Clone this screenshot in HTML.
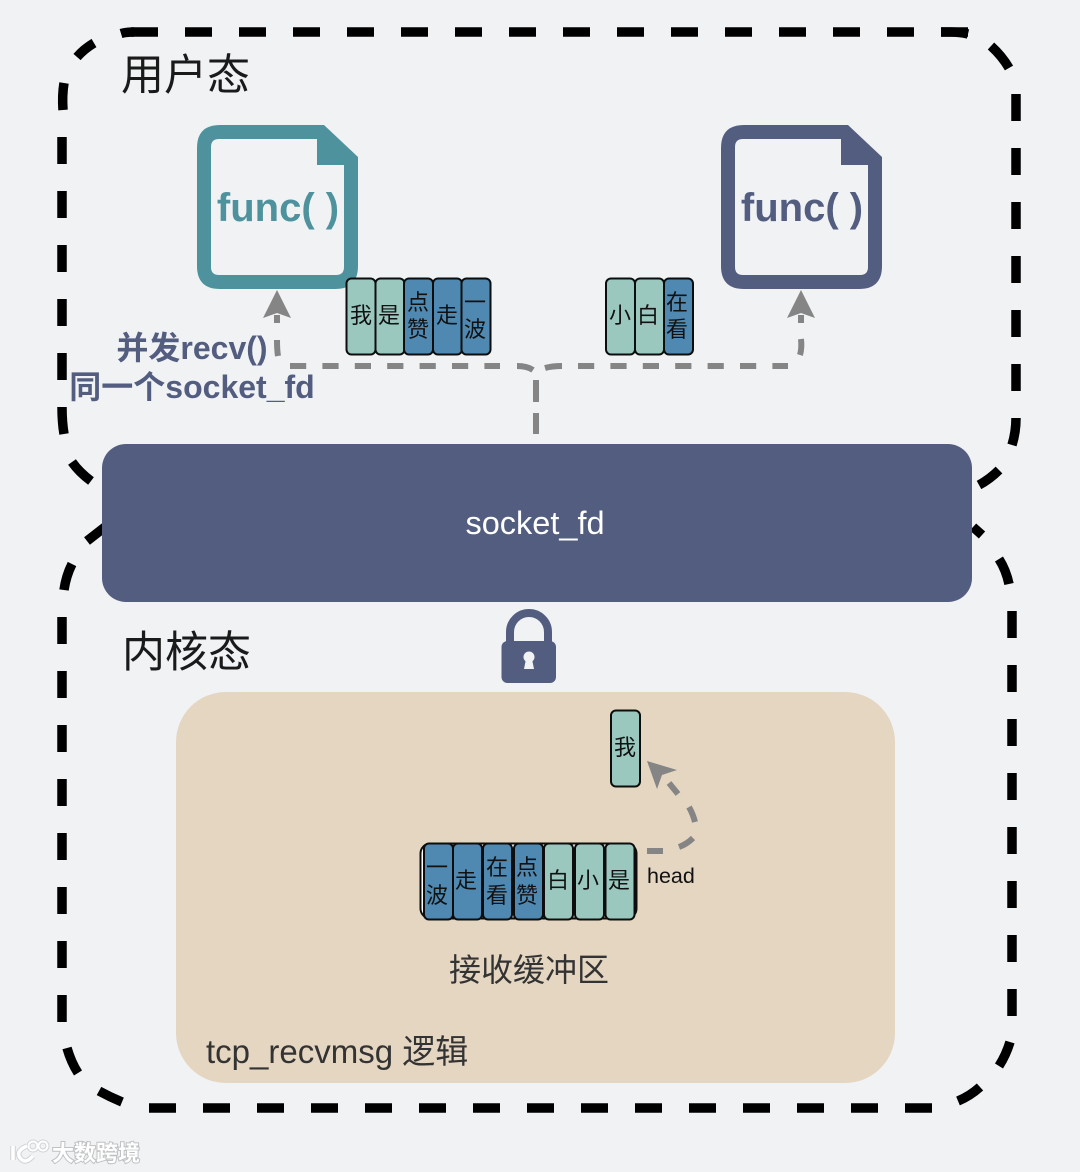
<!DOCTYPE html>
<html><head><meta charset="utf-8"><style>
html,body{margin:0;padding:0;background:#f0f2f4}
svg{display:block}
text{font-family:"Liberation Sans","Noto Sans CJK SC",sans-serif}
.c{font-size:22px;fill:#111;text-anchor:middle;font-family:"Noto Sans CJK SC",sans-serif}
</style></head><body>
<svg width="1080" height="1172" viewBox="0 0 1080 1172" xmlns="http://www.w3.org/2000/svg">
<defs>
<g id="g"><rect x="0" y="0" width="29" height="76" rx="5" fill="#9ac8bf" stroke="#0d0d0d" stroke-width="2"/></g>
<g id="b"><rect x="0" y="0" width="29" height="76" rx="5" fill="#4f88b0" stroke="#0d0d0d" stroke-width="2"/></g>
</defs>
<rect width="1080" height="1172" fill="#f0f2f4"/>
<!-- dashed boxes -->
<g fill="none" stroke="#000" stroke-width="9.500">
<g stroke-dasharray="27 27">
<path d="M131 32H968"/>
<path d="M62 137V407"/>
<path d="M1016 94V418"/>
<path d="M62 617V1023"/>
<path d="M149 1108H905"/>
<path d="M1012 611V1016"/>
</g>
<path d="M121 33.500Q126 32 134 32"/>
<path d="M905 1108H932"/>
<path d="M941 32H950Q960 32 968 34"/>
<path d="M991 46Q1002 56 1009 68"/>
<path d="M1016 418Q1016 432 1012 445"/>
<path d="M999 470Q990 479 979 485"/>
<path d="M62 407Q62 422 64 434"/>
<path d="M72 462Q79 472 91 481"/>
<path d="M87 541L105 527"/>
<path d="M72 564Q66 576 64 590"/>
<path d="M67 1048Q71 1062 78 1073"/>
<path d="M99 1091Q110 1097 122 1102"/>
<path d="M958 1101Q970 1096 980 1087"/>
<path d="M999 1066Q1006 1055 1010 1042"/>
<path d="M973 527L982 535"/>
<path d="M999 559Q1006 570 1009 584"/>
<path d="M63 110Q62 95 64 83"/>
<path d="M77 57Q84 49 94 43"/>
</g>
<text x="121" y="90" font-size="43" fill="#1a1a1a">用户态</text>
<text x="122" y="667" font-size="43" fill="#1a1a1a">内核态</text>
<!-- func icons -->
<path fill-rule="evenodd" fill="#4e929e" d="M220 125H324L358 157V266Q358 289 335 289H220Q197 289 197 266V148Q197 125 220 125ZM219 139Q211 139 211 147V267Q211 275 219 275H336Q344 275 344 267V165H317V139Z"/>
<text x="278" y="221" font-size="40" font-weight="700" fill="#4e929e" text-anchor="middle">func( )</text>
<path fill-rule="evenodd" fill="#535d80" d="M744 125H848L882 157V266Q882 289 859 289H744Q721 289 721 266V148Q721 125 744 125ZM743 139Q735 139 735 147V267Q735 275 743 275H860Q868 275 868 267V165H841V139Z"/>
<text x="802" y="221" font-size="40" font-weight="700" fill="#535d80" text-anchor="middle">func( )</text>
<!-- top blocks left -->
<use href="#g" x="346.500" y="278.500"/><use href="#g" x="375.500" y="278.500"/><use href="#b" x="404" y="278.500"/><use href="#b" x="433" y="278.500"/><use href="#b" x="461.500" y="278.500"/>
<text class="c" x="361" y="323">我</text><text class="c" x="389" y="323">是</text>
<text class="c" x="418" y="310">点</text><text class="c" x="418" y="337">赞</text>
<text class="c" x="447" y="323">走</text>
<text class="c" x="475" y="310">一</text><text class="c" x="475" y="337">波</text>
<!-- top blocks right -->
<use href="#g" x="606" y="278.500"/><use href="#g" x="635" y="278.500"/><use href="#b" x="664" y="278.500"/>
<text class="c" x="620" y="323">小</text><text class="c" x="648" y="323">白</text>
<text class="c" x="677" y="310">在</text><text class="c" x="677" y="337">看</text>
<!-- grey connectors -->
<g fill="none" stroke="#858585" stroke-width="6">
<path d="M277 315V323"/>
<path d="M277 340Q277 350 278 356"/>
<path d="M290 366H500" stroke-dasharray="16.200 16.200"/>
<path d="M517 366Q527 366 533 370"/>
<path d="M536 380V402M536 413V434"/>
<path d="M545 368Q552 366 562 366"/>
<path d="M578 366H788" stroke-dasharray="16.200 16.200"/>
<path d="M801 339Q802 348 800 355"/>
<path d="M801 315V323"/>
</g>
<path fill="#858585" d="M277 290L291 318 277 313 263 318Z"/>
<path fill="#858585" d="M801 290L815 318 801 313 787 318Z"/>
<text x="192" y="359" font-size="32" font-weight="700" fill="#535d80" text-anchor="middle">并发recv()</text>
<text x="192" y="398" font-size="32" font-weight="700" fill="#535d80" text-anchor="middle">同一个socket_fd</text>
<!-- socket -->
<rect x="102" y="444" width="870" height="158" rx="24" fill="#535d80"/>
<text x="535" y="534" font-size="32.500" fill="#fff" text-anchor="middle">socket_fd</text>
<!-- lock -->
<path d="M510 642V632A19 19 0 0 1 548 632V642" fill="none" stroke="#535d80" stroke-width="8"/>
<rect x="501.500" y="641" width="54.500" height="42" rx="6" fill="#535d80"/>
<circle cx="529" cy="657" r="5.500" fill="#f0f2f4"/><path d="M526 659H532L534 669H524Z" fill="#f0f2f4"/>
<!-- tan box -->
<rect x="176" y="692" width="719" height="391" rx="50" fill="#e5d6c1"/>
<text x="206" y="1063" font-size="33" fill="#333">tcp_recvmsg 逻辑</text>
<text x="529" y="981" font-size="32" fill="#333" text-anchor="middle">接收缓冲区</text>
<text x="647" y="883" font-size="21.500" fill="#111">head</text>
<!-- curved connector -->
<g fill="none" stroke="#858585" stroke-width="6">
<path d="M647 851H663"/>
<path d="M679 847Q687 844 693 838"/>
<path d="M695 822Q693 814 689 807"/>
<path d="M678 794L669 783"/>
</g>
<path fill="#858585" d="M647 761L677 770 662 775 657 789Z"/>
<!-- buffer -->
<rect x="420.500" y="843.500" width="216" height="75" rx="10" fill="#fff" stroke="#0d0d0d" stroke-width="2"/>
<g>
<use href="#b" x="424" y="843.500"/><use href="#b" x="453" y="843.500"/><use href="#b" x="483" y="843.500"/><use href="#b" x="514" y="843.500"/><use href="#g" x="544" y="843.500"/><use href="#g" x="575" y="843.500"/><use href="#g" x="605.500" y="843.500"/>
</g>
<text class="c" x="437" y="875">一</text><text class="c" x="437" y="903">波</text>
<text class="c" x="466" y="888">走</text>
<text class="c" x="497" y="875">在</text><text class="c" x="497" y="903">看</text>
<text class="c" x="527" y="875">点</text><text class="c" x="527" y="903">赞</text>
<text class="c" x="558" y="888">白</text><text class="c" x="588" y="888">小</text><text class="c" x="619" y="888">是</text>
<use href="#g" x="611" y="710.500"/>
<text class="c" x="625" y="755">我</text>
<!-- watermark -->
<g fill="none" stroke="#c4c6c8" stroke-width="5.500" opacity=".7">
<path d="M13 1146V1160M27 1146Q17 1150 19 1156Q24 1166 33 1156"/>
<circle cx="33" cy="1146" r="4.500" stroke-width="4"/><circle cx="43" cy="1146" r="4.500" stroke-width="4"/>
</g>
<g fill="none" stroke="#fff" stroke-width="3.500">
<path d="M13 1146V1160M27 1146Q17 1150 19 1156Q24 1166 33 1156"/>
<circle cx="33" cy="1146" r="4.500" stroke-width="2"/><circle cx="43" cy="1146" r="4.500" stroke-width="2"/>
</g>
<text x="52" y="1161" font-size="22" font-weight="700" fill="#fff" stroke="#bfc1c3" stroke-width="2" style="paint-order:stroke">大数跨境</text>
</svg>
</body></html>
